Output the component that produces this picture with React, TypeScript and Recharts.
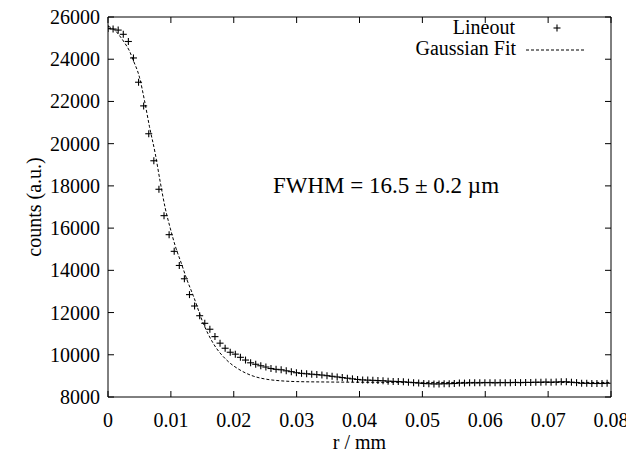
import { ComposedChart, Scatter, Line, XAxis, YAxis, ReferenceArea, Legend } from 'recharts'

// radial lineout, one sample per detector pixel
const pixelMm = 0.00081
const lineoutCounts = [
  25450, 25430, 25380, 25180, 24840, 24060, 22910, 21790, 20470, 19190,
  17840, 16590, 15690, 14900, 14230, 13600, 12850, 12310, 11850, 11490,
  11210, 10860, 10550, 10310, 10120, 10030, 9880, 9750, 9620, 9550,
  9480, 9420, 9350, 9310, 9290, 9240, 9200, 9150, 9120, 9100,
  9080, 9060, 9040, 9010, 8980, 8950, 8920, 8890, 8860, 8830,
  8810, 8800, 8790, 8780, 8770, 8750, 8740, 8730, 8720, 8700,
  8680, 8660, 8640, 8630, 8620, 8620, 8630, 8630, 8640, 8660,
  8660, 8670, 8670, 8670, 8680, 8680, 8670, 8680, 8680, 8680,
  8690, 8680, 8690, 8690, 8700, 8700, 8710, 8700, 8710, 8720,
  8720, 8700, 8680, 8650, 8650, 8640, 8640, 8640, 8650,
]

// gaussian fit curve
const fitR = [
  0, 0.001, 0.002, 0.0027, 0.0034, 0.004, 0.005, 0.0058, 0.0066, 0.0075,
  0.0083, 0.0091, 0.0099, 0.0107, 0.0117, 0.0125, 0.01356, 0.01515, 0.01674, 0.01887,
  0.02099, 0.0231, 0.02523, 0.02734, 0.03, 0.035, 0.04, 0.05, 0.065, 0.08,
]
const fitCounts = [
  25560, 25400, 25050, 24750, 24400, 23960, 23150, 22050, 20800, 19550,
  18200, 16950, 16000, 15150, 14300, 13600, 12800, 11490, 10540, 9750,
  9280, 8990, 8840, 8770, 8730, 8710, 8700, 8690, 8690, 8690,
]

const xTicks = [0, 0.01, 0.02, 0.03, 0.04, 0.05, 0.06, 0.07, 0.08]
const yTicks = [8000, 10000, 12000, 14000, 16000, 18000, 20000, 22000, 24000, 26000]

const lineout = lineoutCounts.map((c, i) => ({ r: i * pixelMm, c }))
const fit = fitR.map((r, i) => ({ r, c: fitCounts[i] }))

// chart covers the whole window (body margin cancelled below)
const W = 634
const H = 460
const margin = { top: 17, right: 23, left: 8, bottom: 0 }
const plotTop = margin.top
const plotRight = W - margin.right
const FONT = '"Liberation Serif", "Times New Roman", serif'
const TICK = 6

const fmtR = (v: number) => (v === 0 ? '0' : v.toFixed(2))

const XTick = ({ x, y, payload }: any) => (
  <g>
    <line x1={x} x2={x} y1={y} y2={y - TICK} stroke="#000" />
    <line x1={x} x2={x} y1={plotTop} y2={plotTop + TICK} stroke="#000" />
    <text x={x} y={y + 30} textAnchor="middle" fontSize={20} fontFamily={FONT} fill="#000">
      {fmtR(payload.value)}
    </text>
  </g>
)

const YTick = ({ x, y, payload }: any) => (
  <g>
    <line x1={x} x2={x + TICK} y1={y} y2={y} stroke="#000" />
    <line x1={plotRight} x2={plotRight - TICK} y1={y} y2={y} stroke="#000" />
    <text x={x - 8} y={y + 7} textAnchor="end" fontSize={20} fontFamily={FONT} fill="#000">
      {payload.value}
    </text>
  </g>
)

const XLabel = ({ viewBox }: any) => (
  <text x={viewBox.x + viewBox.width / 2} y={viewBox.y + 52} textAnchor="middle" fontSize={20} fontFamily={FONT} fill="#000">
    r / mm
  </text>
)

const YLabel = ({ viewBox }: any) => {
  const cx = viewBox.x + 26
  const cy = viewBox.y + viewBox.height / 2
  return (
    <text x={cx} y={cy} transform={`rotate(-90 ${cx} ${cy})`} textAnchor="middle" dominantBaseline="central" fontSize={20} fontFamily={FONT} fill="#000">
      counts (a.u.)
    </text>
  )
}

const Plus = ({ cx, cy }: any) => (
  <g stroke="#000" strokeWidth={1.1}>
    <line x1={cx - 3.5} x2={cx + 3.5} y1={cy} y2={cy} />
    <line x1={cx} x2={cx} y1={cy - 3.5} y2={cy + 3.5} />
  </g>
)

const LegendBox = () => (
  <svg width={220} height={56} style={{ display: 'block', overflow: 'visible' }}>
    <text x={115} y={17} textAnchor="end" fontSize={20} fontFamily={FONT} fill="#000">Lineout</text>
    <Plus cx={157} cy={11} />
    <text x={116} y={38} textAnchor="end" fontSize={20} fontFamily={FONT} fill="#000">Gaussian Fit</text>
    <line x1={126} x2={185} y1={33} y2={33} stroke="#000" strokeDasharray="3 2" />
  </svg>
)

export default function App() {
  return (
    <div style={{ position: 'relative', width: W, height: H, margin: '-8px 0 0 -8px', fontFamily: FONT }}>
      <ComposedChart width={W} height={H} margin={margin}>
        <XAxis
          xAxisId={0}
          type="number"
          dataKey="r"
          domain={[0, 0.08]}
          ticks={xTicks}
          interval={0}
          allowDataOverflow
          height={63}
          tickSize={0}
          tickMargin={0}
          axisLine={false}
          tick={<XTick />}
          label={<XLabel />}
        />
        <YAxis
          type="number"
          domain={[8000, 26000]}
          ticks={yTicks}
          interval={0}
          allowDataOverflow
          width={100}
          tickSize={0}
          tickMargin={0}
          axisLine={false}
          tick={<YTick />}
          label={<YLabel />}
        />
        <ReferenceArea x1={0} x2={0.08} y1={8000} y2={26000} fill="none" stroke="#000" strokeWidth={1} fillOpacity={0} />
        <Line
          data={fit}
          dataKey="c"
          type="monotone"
          stroke="#000"
          strokeWidth={1}
          strokeDasharray="3 2"
          dot={false}
          activeDot={false}
          isAnimationActive={false}
        />
        <Scatter data={lineout} dataKey="c" shape={<Plus />} isAnimationActive={false} />
        <Legend
          layout="horizontal"
          verticalAlign="middle"
          content={<LegendBox />}
          wrapperStyle={{ top: 17, left: 400, width: 220, height: 56 }}
        />
      </ComposedChart>
      <div
        style={{
          position: 'absolute',
          left: 386 - 120,
          top: 173,
          width: 240,
          textAlign: 'center',
          fontSize: 23,
          lineHeight: '26px',
          color: '#000',
        }}
      >
        FWHM = 16.5 ± 0.2 µm
      </div>
    </div>
  )
}
